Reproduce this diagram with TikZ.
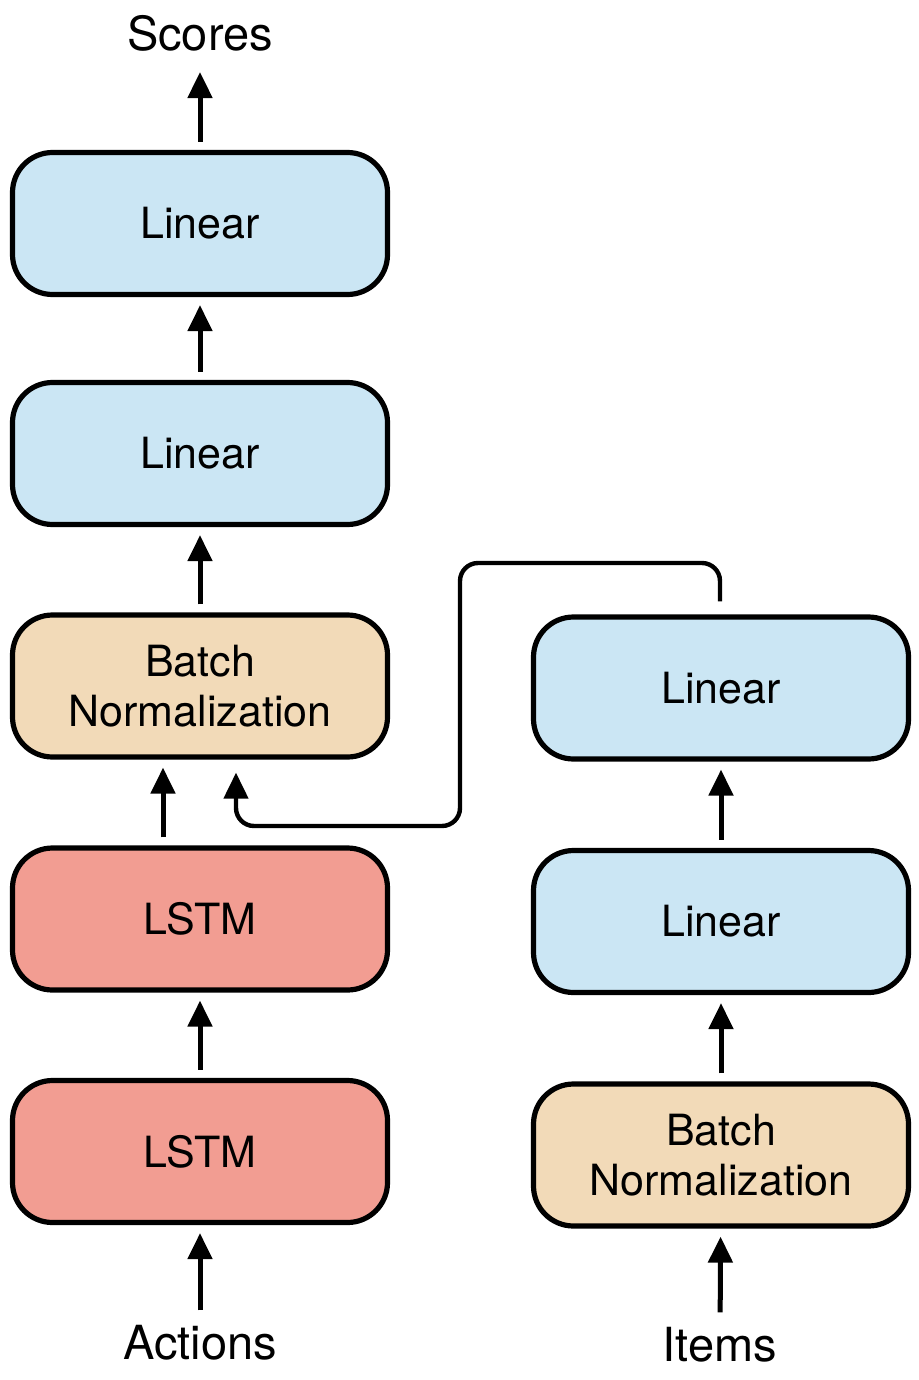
\documentclass[tikz,border=0pt]{standalone}
\usepackage{fontspec}
\setmainfont{TeX Gyre Heros}
\usetikzlibrary{arrows.meta}

\definecolor{linblue}{HTML}{CBE6F4}
\definecolor{bnbeige}{HTML}{F2DAB8}
\definecolor{lstmred}{HTML}{F29D92}

\tikzset{
  block/.style={draw, line width=2.6pt, rounded corners=20pt,
    minimum width=187.5pt, minimum height=71pt, align=center,
    font=\fontsize{21.5}{25}\selectfont},
  label/.style={font=\fontsize{23.5}{25}\selectfont},
  arr/.style={line width=2.5pt, -{Triangle[length=13pt,width=12pt]},
    shorten <=4pt, shorten >=4pt}
}

\begin{document}
\begin{tikzpicture}[x=0.5pt,y=-0.5pt]
  \useasboundingbox (0,0) rectangle (918,1380);
  % Actions branch
  \node[block, fill=lstmred] (lstmB) at (200,1151.5) {LSTM};
  \node[block, fill=lstmred] (lstmA) at (200,919) {LSTM};
  \node[block, fill=bnbeige] (bnA) at (200,686) {Batch\\Normalization};
  \node[block, fill=linblue] (linA) at (200,453.5) {Linear};
  \node[block, fill=linblue] (linB) at (200,223.5) {Linear};
  % Items branch
  \node[block, fill=bnbeige] (bnR) at (721,1155) {Batch\\Normalization};
  \node[block, fill=linblue] (linR) at (721,921.5) {Linear};
  \node[block, fill=linblue] (linS) at (721,688) {Linear};
  % inputs and output
  \node[label] (actions) at (200,1343) {Actions};
  \node[label] (items) at (720,1345) {Items};
  \node[label] (scores) at (200,33) {Scores};

  \foreach \a/\b in {lstmB/lstmA, linA/linB, bnA/linA, bnR/linR, linR/linS}
    \draw[arr] (\a) -- (\b);
  \draw[arr] (actions) -- (lstmB);
  \draw[arr] (items) -- (bnR);
  \draw[arr, shorten >=7pt] (linB) -- (scores);
  \draw[arr] ([xshift=-18.5pt]lstmA.north) -- ([xshift=-18.5pt]bnA.south);
  % skip connection from the items branch
  \coordinate (hi) at (460,563);
  \coordinate (lo) at (460,826);
  \draw[arr, line width=2.2pt, rounded corners=9pt, shorten <=6.5pt, shorten >=6.5pt]
    ([xshift=-0.5pt]linS.north) |- (hi) -- (lo) -| ([xshift=18pt]bnA.south);
\end{tikzpicture}
\end{document}
